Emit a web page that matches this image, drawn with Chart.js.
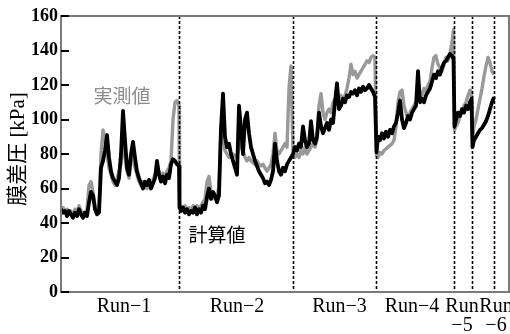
<!DOCTYPE html>
<html>
<head>
<meta charset="utf-8">
<script src="https://cdn.jsdelivr.net/npm/chart.js@4/dist/chart.umd.min.js"></script>
<style>
  html, body { margin: 0; padding: 0; background: #fff; }
  #wrap { width: 510px; height: 334px; position: relative; }
</style>
</head>
<body>
<div id="wrap"><canvas id="c"></canvas></div>
<script>
// Elapsed operating time (arbitrary units) and transmembrane pressure [kPa]
const elapsed = [
  0,2,4,6,8,10,12,14,16,18,20,22,24,26,28,30,32,34,36,38,40,42,44,46,48,50,52,54,56,58,
  60,62,64,66,68,70,72,74,76,78,80,82,84,86,88,90,92,94,96,98,100,102,104,106,108,110,112,114,116,118,
  118.5,120,122,124,126,128,130,132,134,136,138,140,142,144,146,148,150,152,154,156,158,160,162,164,166,168,170,172,174,176,
  178,180,182,184,186,188,190,192,194,196,198,200,202,204,206,208,210,212,214,216,218,220,222,224,226,228,230,
  232,234,236,238,240,242,244,246,248,250,252,254,256,258,260,262,264,266,268,270,272,274,276,278,280,282,284,286,288,290,
  292,294,296,298,300,302,304,306,308,310,312,314,
  315.5,317,319,321,323,325,327,329,331,333,335,337,339,341,343,345,347,349,351,353,355,357,359,361,363,365,367,369,371,373,
  375,377,379,381,383,385,387,389,391,392.5,
  393.5,395,397,399,401,403,405,407,409,410.5,
  411.5,413,415,417,419,421,423,425,427,429,431,433
];

const calculated = [
  48,46,47,44,47,45,43,46,44,48,45,43,46,44,52,58,56,48,45,46,72,76,82,91,78,70,66,64,62,66,
  80,105,88,72,68,80,87,78,70,66,63,60,64,62,65,60,63,66,76,68,64,67,63,68,66,74,77,76,74,73,
  49,47,49,46,48,45,47,46,49,45,48,46,50,48,55,60,54,58,56,52,56,95,115,90,84,86,80,76,72,68,
  108,95,80,100,104,92,84,80,76,73,70,68,66,63,64,62,65,70,86,76,70,68,72,70,74,76,78,
  80,84,82,86,84,96,88,84,86,99,88,86,90,104,96,92,95,98,94,100,98,110,121,106,108,112,110,114,113,116,
  115,117,114,118,116,119,117,118,120,118,116,113,
  81,90,88,92,89,93,90,94,92,96,98,104,111,100,95,98,102,100,104,106,108,128,110,112,110,114,116,118,122,126,
  124,128,126,130,133,134,136,138,137,135,
  96,100,104,102,106,104,108,106,110,112,
  84,88,90,92,94,95,97,99,102,106,110,113
];

const measured = [
  47,49,46,48,45,47,44,48,45,50,47,46,44,48,62,64,58,50,46,47,80,94,88,80,72,68,64,62,66,70,
  74,92,78,70,66,75,80,72,68,64,62,64,61,60,63,62,65,68,72,70,67,69,66,70,72,76,100,110,111,108,
  50,50,48,50,47,49,46,50,48,50,47,50,52,54,64,67,58,55,54,54,62,96,92,82,80,78,79,80,79,78,
  86,84,82,78,76,78,76,75,74,76,74,73,74,72,70,72,74,80,92,82,80,82,84,86,84,118,131,
  82,78,80,78,82,80,84,80,82,84,86,84,88,108,115,104,100,104,106,104,110,112,110,112,114,110,114,118,124,132,
  126,128,124,126,128,130,132,134,133,136,137,136,
  79,78,81,80,82,83,84,85,86,88,96,110,116,117,108,104,100,104,106,108,110,112,116,114,118,116,120,122,130,136,
  137,132,130,128,132,136,134,138,145,152,
  94,96,98,102,104,108,110,114,117,116,
  90,96,100,106,112,118,125,131,136,133,128,126
];

// Run boundaries on the time axis and their names
const runBounds = [0, 118, 232, 315, 393, 411, 433];
const runNames = ['Run−1', 'Run−2', 'Run−3', 'Run−4', ['Run', '−5'], ['Run', '−6']];
const yTicks = [0, 20, 40, 60, 80, 100, 120, 140, 160];

const SERIF = "'Liberation Serif', 'DejaVu Serif', serif";
const JP = "'Noto Sans CJK JP', sans-serif";

// Run label anchors: midpoint of each run, nudged so the narrow runs do not collide
const labelNudge = [4, 1, 5, -3, -1, 13];
const labelAt = runNames.map((_, i) => (runBounds[i] + runBounds[i + 1]) / 2 + labelNudge[i]);

const toPoints = vals => elapsed.map((t, i) => ({ x: t, y: vals[i] }));

const decor = {
  id: 'decor',
  afterDatasetsDraw(chart) {
    const { ctx, chartArea: a, scales: { x, y } } = chart;
    ctx.save();

    // dotted separators between runs
    ctx.strokeStyle = '#000';
    ctx.lineWidth = 1.6;
    ctx.setLineDash([3, 2]);
    runBounds.slice(1).forEach(b => {
      const px = Math.round(x.getPixelForValue(b)) + 0.5;
      ctx.beginPath();
      ctx.moveTo(px, a.top);
      ctx.lineTo(px, a.bottom);
      ctx.stroke();
    });
    ctx.setLineDash([]);

    // plot frame
    ctx.strokeStyle = '#7a7a7a';
    ctx.lineWidth = 2;
    ctx.strokeRect(a.left, a.top, a.right - a.left, a.bottom - a.top);

    // inward tick marks on the pressure axis
    ctx.strokeStyle = '#000';
    ctx.lineWidth = 2;
    yTicks.forEach(v => {
      const py = Math.round(y.getPixelForValue(v));
      ctx.beginPath();
      ctx.moveTo(a.left, py);
      ctx.lineTo(a.left + 8, py);
      ctx.stroke();
    });

    // series notes
    ctx.textAlign = 'center';
    ctx.textBaseline = 'middle';
    ctx.font = '19px ' + JP;
    ctx.fillStyle = '#8c8c8c';
    ctx.fillText('実測値', x.getPixelForValue(61), y.getPixelForValue(114));
    ctx.fillStyle = '#000';
    ctx.fillText('計算値', x.getPixelForValue(156), y.getPixelForValue(33));

    // axis title
    ctx.translate(18, 149);
    ctx.rotate(-Math.PI / 2);
    ctx.font = "21px 'Liberation Serif', 'Noto Sans CJK JP', serif";
    ctx.fillStyle = '#000';
    ctx.fillText('膜差圧 [kPa]', 0, 0);
    ctx.restore();
  }
};

new Chart(document.getElementById('c'), {
  type: 'line',
  data: {
    datasets: [
      { label: '計算値', data: toPoints(calculated), borderColor: '#000', borderWidth: 3.8, order: 0 },
      { label: '実測値', data: toPoints(measured), borderColor: '#999', borderWidth: 3.4, order: 1 }
    ]
  },
  options: {
    responsive: true,
    maintainAspectRatio: false,
    animation: false,
    events: [],
    layout: { padding: { top: 16, right: 1, left: 0, bottom: 0 } },
    elements: {
      point: { radius: 0 },
      line: { tension: 0, borderJoinStyle: 'round', fill: false }
    },
    plugins: { legend: { display: false }, tooltip: { enabled: false } },
    scales: {
      x: {
        type: 'linear',
        min: 0,
        max: 448,
        grid: { display: false, drawTicks: false },
        border: { display: false },
        afterBuildTicks: s => { s.ticks = labelAt.map(v => ({ value: v })); },
        afterFit: s => { s.height = 42; s.paddingLeft = 0; s.paddingRight = 0; },
        ticks: {
          autoSkip: false,
          maxRotation: 0,
          minRotation: 0,
          padding: 5,
          color: '#000',
          font: { family: SERIF, size: 20, lineHeight: 0.95 },
          callback: (v, i) => runNames[i]
        }
      },
      y: {
        min: 0,
        max: 160,
        grid: { display: false, drawTicks: false },
        border: { display: false },
        afterBuildTicks: s => { s.ticks = yTicks.map(v => ({ value: v })); },
        afterFit: s => { s.width = 61; },
        ticks: {
          padding: 3,
          color: '#000',
          font: { family: SERIF, size: 18, weight: 'bold' }
        }
      }
    }
  },
  plugins: [decor]
});
</script>
</body>
</html>
